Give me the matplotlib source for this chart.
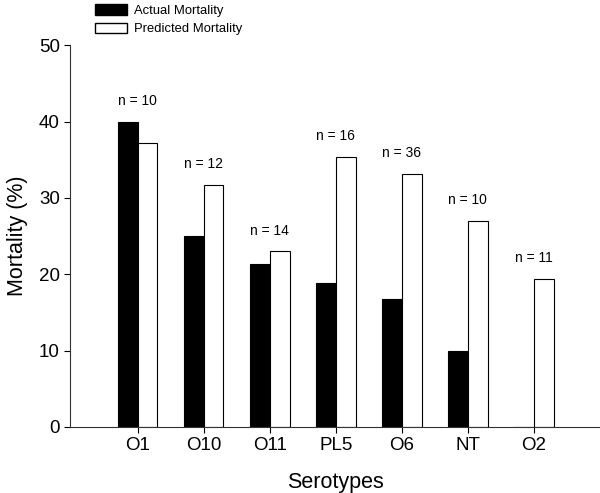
import numpy as np
import matplotlib.pyplot as plt
from matplotlib.patches import Patch

plt.rcParams['font.family'] = ['Liberation Sans', 'DejaVu Sans']

serotypes = ["O1", "O10", "O11", "PL5", "O6", "NT", "O2"]
actual = [40.0, 25.0, 21.4, 18.8, 16.7, 10.0, 0.0]
predicted = [37.2, 31.7, 23.0, 35.4, 33.2, 27.0, 19.4]
n_labels = ["n = 10", "n = 12", "n = 14", "n = 16", "n = 36", "n = 10", "n = 11"]

x = np.arange(len(serotypes))
w = 0.3

fig = plt.figure(figsize=(6, 4.93), dpi=100)
ax = fig.add_axes([0.117, 0.134, 0.883, 0.774])

ax.bar(x - w / 2, actual, w, color="black", edgecolor="black", linewidth=0.8)
ax.bar(x + w / 2, predicted, w, color="white", edgecolor="black", linewidth=0.8)

for xi, a, p, lab in zip(x, actual, predicted, n_labels):
    ax.text(xi, max(a, p) + 2.7, lab, ha="center", va="center", fontsize=10)

ax.set_xlim(-1.02, 7.0)
ax.set_ylim(0, 50)
ax.set_yticks(range(0, 51, 10))
ax.set_xticks(x)
ax.set_xticklabels(serotypes)
ax.tick_params(axis="both", direction="out", length=4, width=0.8, labelsize=13.5)
ax.spines["top"].set_visible(False)
ax.spines["right"].set_visible(False)
for s in ("left", "bottom"):
    ax.spines[s].set_linewidth(0.8)
    ax.spines[s].set_color("#333333")
ax.set_xlabel("Serotypes", fontsize=15.5, labelpad=13)
ax.set_ylabel("Mortality (%)", fontsize=15.5, labelpad=8)

handles = [Patch(facecolor="black", edgecolor="black", label="Actual Mortality"),
           Patch(facecolor="white", edgecolor="black", label="Predicted Mortality")]
fig.legend(handles=handles, loc="upper left", bbox_to_anchor=(0.150, 1.003),
           frameon=False, fontsize=9.4, handlelength=2.4, handleheight=0.9,
           labelspacing=0.45, handletextpad=0.6, borderaxespad=0)

fig.savefig("out.png", dpi=100)
